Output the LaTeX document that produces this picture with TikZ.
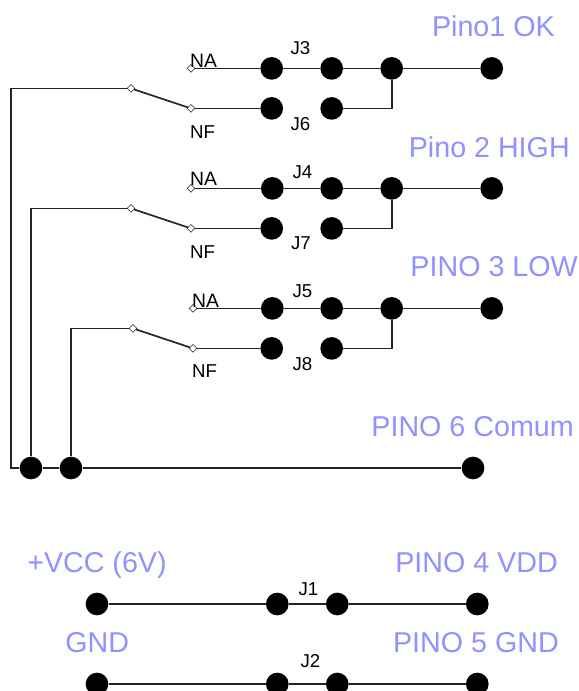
\documentclass[tikz,border=0pt]{standalone}
\usepackage{fontspec}
\setmainfont{Liberation Sans}
\usetikzlibrary{shapes.geometric}
\definecolor{lbl}{RGB}{145,145,255}
\definecolor{wirec}{RGB}{35,35,35}
\tikzset{
  wire/.style={draw=wirec,line width=1.25pt},
  dotn/.style={circle,fill=black,inner sep=0pt,minimum size=17pt},
  cont/.style={diamond,draw=wirec,fill=white,line width=0.45pt,inner sep=0pt,minimum size=6pt},
  blue lbl/.style={text=lbl,font=\fontsize{21.5}{24}\selectfont,inner sep=0pt},
  small lbl/.style={text=black,font=\fontsize{14}{16}\selectfont,inner sep=0pt}
}
\begin{document}
\begin{tikzpicture}[x=0.75pt,y=-0.75pt]
\useasboundingbox (0,0) rectangle (578,691);
\fill[white] (0,0) rectangle (578,691);
% Switch groups
\foreach \g/\yo/\xl/\ja/\jb/\xc/\xt/\naoff/\nfoff/\jax/\jay/\jbx/\jby in {
  a/68.4/11/J3/J6/191/271.7/-8/23.2/300.5/48/300.5/124.5,
  b/188.4/31/J4/J7/191/272.3/-10/24/302.5/172/301/243.5,
  c/308.4/71/J5/J8/193/272.3/-8/23/302.5/291.5/302.5/364}{
  \pgfmathsetmacro{\ya}{\yo}
  \pgfmathsetmacro{\yb}{\yo+40}
  \pgfmathsetmacro{\yp}{\yo+20}
  \pgfmathsetmacro{\xp}{\xc-60}
  \pgfmathsetmacro{\yna}{\yo+\naoff}
  \pgfmathsetmacro{\ynf}{\yb+\nfoff}
  \pgfmathsetmacro{\xna}{\xc+12.5}
  \pgfmathsetmacro{\xnf}{\xc+11.5}
  \node[dotn] (\g1) at (\xt,\ya) {};
  \node[dotn] (\g2) at (331.7,\ya) {};
  \node[dotn] (\g3) at (391.7,\ya) {};
  \node[dotn] (\g4) at (491.7,\ya) {};
  \node[dotn] (\g5) at (271.7,\yb) {};
  \node[dotn] (\g6) at (331.7,\yb) {};
  \node[cont] (\g na) at (\xc,\ya) {};
  \node[cont] (\g nf) at (\xc,\yb) {};
  \node[cont] (\g p) at (\xp,\yp) {};
  \coordinate (\g l) at (\xl,\yp);
  \draw[wire] (\g na) -- (\g1) -- (\g2) -- (\g3) -- (\g4);
  \draw[wire] (\g nf) -- (\g5);
  \draw[wire] (\g6) -| (\g3);
  \draw[wire] (\g p) -- (\g nf);
  \draw[wire] (\g p) -- (\g l);
  \node[small lbl] at (\xna,\yna) {\fontsize{14.5}{16}\selectfont NA};
  \node[small lbl] at (\xnf,\ynf) {NF};
  \node[small lbl] at (\jax,\jay) {\ja};
  \node[small lbl] at (\jbx,\jby) {\jb};
}
% Common bus
\node[dotn] (c31) at (31,468) {};
\node[dotn] (c71) at (71,468) {};
\node[dotn] (cr) at (473,468) {};
\coordinate (corner) at (11,468);
\draw[wire] (al) -- (corner) -- (c31) -- (c71) -- (cr);
\draw[wire] (bl) -- (c31);
\draw[wire] (cl) -- (c71);
% Power rows
\node[dotn] (v1) at (97,604) {};
\node[dotn] (v2) at (277.3,604) {};
\node[dotn] (v3) at (337.3,604) {};
\node[dotn] (v4) at (477.3,604) {};
\draw[wire] (v1) -- (v2) -- (v3) -- (v4);
\node[dotn] (g1) at (97,684) {};
\node[dotn] (g2) at (277.3,684) {};
\node[dotn] (g3) at (337.3,684) {};
\node[dotn] (g4) at (477.3,684) {};
\draw[wire] (g1) -- (g2) -- (g3) -- (g4);
\node[small lbl] at (308.5,589.5) {J1};
\node[small lbl] at (310.5,661) {J2};
% Blue labels
\node[blue lbl,anchor=base east] at (555,36.5) {Pino1 OK};
\node[blue lbl,anchor=base east] at (570,157.5) {Pino 2 HIGH};
\node[blue lbl,anchor=base east] at (578,276.5) {PINO 3 LOW};
\node[blue lbl,anchor=base east] at (574,436.5) {PINO 6 Comum};
\node[blue lbl,anchor=base west] at (27,572.5) {+VCC (6V)};
\node[blue lbl,anchor=base west] at (65,652.5) {GND};
\node[blue lbl,anchor=base east] at (558,572.5) {PINO 4 VDD};
\node[blue lbl,anchor=base east] at (559,652.5) {PINO 5 GND};
\end{tikzpicture}
\end{document}
